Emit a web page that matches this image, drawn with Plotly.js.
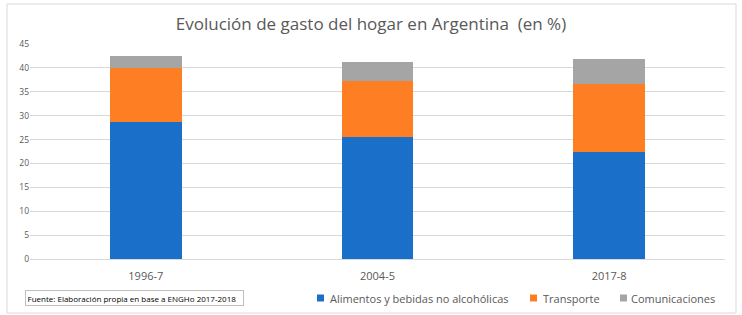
<!DOCTYPE html>
<html>
<head>
<meta charset="utf-8">
<script src="https://cdn.plot.ly/plotly-3.0.1.min.js"></script>
<style>html,body{margin:0;padding:0;background:#fff;}#chart{width:742px;height:315px;}</style>
</head>
<body>
<div id="chart"></div>
<script>
var categories = ["1996-7", "2004-5", "2017-8"];
var alimentos = [28.7, 25.6, 22.5];
var transporte = [11.3, 11.65, 14.2];
var comunicaciones = [2.5, 3.95, 5.2];
var seriesNames = ["Alimentos y bebidas no alcohólicas", "Transporte", "Comunicaciones"];
var yTicks = [0, 5, 10, 15, 20, 25, 30, 35, 40, 45];
var titleText = "Evolución de gasto del hogar en Argentina  (en %)";
var sourceText = "Fuente: Elaboración propia en base a ENGHo 2017-2018";

var colors = ["#1a70c8", "#fd7e23", "#a5a5a5"];
var vals = [alimentos, transporte, comunicaciones];
var traces = vals.map(function(v, i){
  return {type:"bar", x:categories, y:v, name:seriesNames[i],
          marker:{color:colors[i], line:{width:0}}, width:0.31, hoverinfo:"none"};
});

// plot area in pixels: left 30, right 725, top 44, bottom 259
var L = 30, R = 725, T = 44, B = 259;
function px(x){ return (x - L) / (R - L); }
function py(y){ return (B - y) / (B - T); }

var fontFam = "Open Sans, Noto Sans, sans-serif";

// custom legend (small squares + labels), matching the reference layout
var legendSquareX = [317, 530, 620];
var legendTextX = [328, 541, 629];
var legendY = 298;
var shapes = [{type:"rect", xref:"paper", yref:"paper", x0:px(7), x1:px(736), y0:py(313), y1:py(4),
           line:{color:"#d9d9d9", width:1}, fillcolor:"rgba(0,0,0,0)", layer:"below"}];
var annotations = [{text:sourceText, xref:"paper", yref:"paper", x:px(25), xanchor:"left",
                y:py(297.5), yanchor:"middle", showarrow:false, align:"left",
                font:{family:fontFam, size:8, color:"#000000"},
                bordercolor:"#bfbfbf", borderwidth:1, borderpad:1.5, width:214, bgcolor:"#ffffff"}];
seriesNames.forEach(function(n, i){
  shapes.push({type:"rect", xref:"paper", yref:"paper",
               x0:px(legendSquareX[i]), x1:px(legendSquareX[i] + 7),
               y0:py(legendY + 3.5), y1:py(legendY - 3.5),
               line:{width:0}, fillcolor:colors[i]});
  annotations.push({text:n, xref:"paper", yref:"paper", x:px(legendTextX[i]), xanchor:"left",
                    y:py(legendY), yanchor:"middle", showarrow:false,
                    font:{family:fontFam, size:11, color:"#595959"}});
});

var layout = {
  width:742, height:315,
  margin:{l:L, r:742 - R, t:T, b:315 - B},
  paper_bgcolor:"#ffffff", plot_bgcolor:"#ffffff",
  barmode:"stack",
  showlegend:false,
  title:{text:titleText, x:0.5, xanchor:"center", y:0.925, yanchor:"middle", yref:"container",
         font:{family:fontFam, size:17, color:"#595959"}},
  xaxis:{type:"category", showgrid:false, zeroline:false, showline:false, ticks:"",
         ticklabelstandoff:9,
         tickfont:{family:fontFam, size:11, color:"#595959"}, fixedrange:true},
  yaxis:{range:[0,45], tickvals:yTicks, showgrid:true, gridcolor:"#d9d9d9", gridwidth:1,
         zeroline:true, zerolinecolor:"#d9d9d9", zerolinewidth:1, showline:false, ticks:"",
         tickfont:{family:fontFam, size:8.5, color:"#595959"}, fixedrange:true},
  shapes:shapes,
  annotations:annotations
};
Plotly.newPlot("chart", traces, layout, {displayModeBar:false, staticPlot:true});
</script>
</body>
</html>
